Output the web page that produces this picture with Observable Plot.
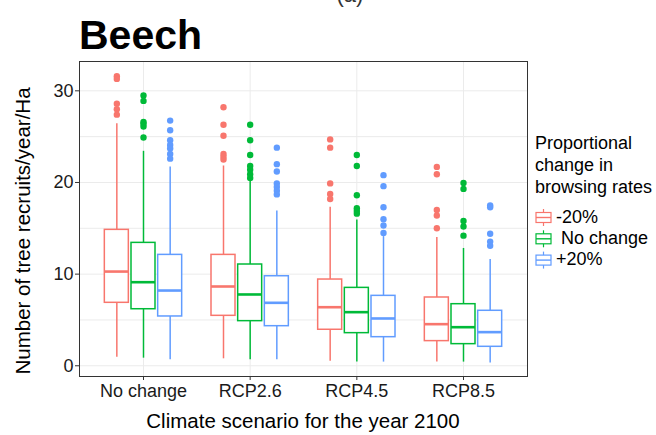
<!DOCTYPE html>
<html><head><meta charset="utf-8">
<script src="https://cdn.jsdelivr.net/npm/d3@7"></script>
<script src="https://cdn.jsdelivr.net/npm/@observablehq/plot@0.6"></script>
<style>
html,body{margin:0;padding:0;background:#fff;}
#wrap{position:relative;width:656px;height:435px;overflow:hidden;font-family:"Liberation Sans",Arial,sans-serif;}
#wrap svg{position:absolute;left:0;top:0;}
</style></head><body><div id="wrap"></div>
<script>
const scenarios = ["No change", "RCP2.6", "RCP4.5", "RCP8.5"];
const browsing = ["-20%", "No change", "+20%"];
const colors = ["#F8766D", "#00BA38", "#619CFF"];
const yTicks = [0, 10, 20, 30];
const yGrid = [0, 5, 10, 15, 20, 25, 30];

// order: for each scenario -> -20%, No change, +20%
const whiskerLow = [0.94, 0.83, 0.65,  0.76, 0.65, 0.65,  0.5, 0.4, 0.4,  0.4, 0.4, 0.3];
const q1         = [6.87, 6.17, 5.38,  5.45, 4.87, 4.32,  3.93, 3.56, 3.12,  2.69, 2.36, 2.07];
const median     = [10.28, 9.12, 8.21, 8.65, 7.78, 6.87,  6.39, 5.85, 5.16,  4.54, 4.21, 3.67];
const q3         = [14.83, 13.41, 12.1, 12.1, 11.05, 9.77, 9.41, 8.5, 7.63,  7.45, 6.72, 6.0];
const whiskerHigh= [26.4, 23.4, 21.7,  21.8, 20.1, 16.9,  17.3, 15.9, 14.1,  14.0, 12.8, 11.6];
const outliers = [
  [31.6, 31.3, 28.6, 28.0, 27.4],
  [29.5, 28.9, 26.6, 26.4, 26.1, 24.9],
  [26.75, 25.7, 24.6, 24.1, 23.7, 23.1, 22.6],
  [28.2, 26.3, 25.1, 23.1, 22.8, 22.5],
  [26.3, 24.6, 23.0, 21.8, 21.4, 20.9, 20.5],
  [23.8, 22.0, 21.2, 19.9, 19.5, 19.1, 18.7],
  [24.7, 23.8, 19.9, 18.75, 18.2],
  [23.0, 21.8, 18.6, 17.2, 16.9, 16.6],
  [20.8, 19.6, 17.3, 16.0, 15.3, 14.5],
  [21.7, 20.9, 17.0, 16.4, 15.0],
  [19.95, 19.3, 15.8, 15.2, 14.2],
  [17.5, 17.3, 14.4, 13.55, 13.1]
];

const dodge = 0.25, halfBox = 0.1125;
const rows = [];
const outRows = [];
scenarios.forEach((s, i) => browsing.forEach((b, j) => {
  const k = i * 3 + j;
  const pos = i + 1 + (j - 1) * dodge;
  rows.push({scenario: s, browsing: b, pos, lo: whiskerLow[k], q1: q1[k], med: median[k], q3: q3[k], hi: whiskerHigh[k]});
  outliers[k].forEach(v => outRows.push({browsing: b, pos, v}));
}));

const chart = Plot.plot({
  width: 656, height: 435,
  marginLeft: 79, marginRight: 129, marginTop: 61, marginBottom: 59,
  style: {fontFamily: "'Liberation Sans', Arial, sans-serif", background: "white", color: "#1a1a1a"},
  x: {type: "linear", domain: [0.4, 4.6]},
  y: {domain: [-1.17, 33.2]},
  color: {domain: browsing, range: colors},
  marks: [
    Plot.gridY(yGrid, {stroke: "#ebebeb", strokeOpacity: 1, strokeWidth: 1}),
    Plot.gridX([1, 2, 3, 4], {stroke: "#ebebeb", strokeOpacity: 1, strokeWidth: 1}),
    Plot.ruleX(rows, {x: "pos", y1: "q3", y2: "hi", stroke: "browsing", strokeWidth: 1.5}),
    Plot.ruleX(rows, {x: "pos", y1: "lo", y2: "q1", stroke: "browsing", strokeWidth: 1.5}),
    Plot.dot(outRows, {x: "pos", y: "v", r: 3.2, fill: "browsing", stroke: null}),
    Plot.rect(rows, {x1: d => d.pos - halfBox, x2: d => d.pos + halfBox, y1: "q1", y2: "q3", fill: "white", stroke: "browsing", strokeWidth: 1.5}),
    Plot.ruleY(rows, {y: "med", x1: d => d.pos - halfBox, x2: d => d.pos + halfBox, stroke: "browsing", strokeWidth: 2.6}),
    Plot.frame({stroke: "#333", strokeWidth: 1}),
    Plot.axisY(yTicks, {tickSize: 4, tickPadding: 2, fontSize: 18, label: null, stroke: "#333", fill: "#1a1a1a"}),
    Plot.axisX([1, 2, 3, 4], {tickFormat: d => scenarios[d - 1], tickSize: 4, tickPadding: 4, fontSize: 18, label: null, stroke: "#333", fill: "#1a1a1a"})
  ]
});
const wrap = document.getElementById("wrap");
wrap.appendChild(chart);

// overlay texts & legend
const ns = "http://www.w3.org/2000/svg";
const ov = document.createElementNS(ns, "svg");
ov.setAttribute("width", 656); ov.setAttribute("height", 435);
ov.setAttribute("font-family", "'Liberation Sans', Arial, sans-serif");
function txt(str, x, y, opts = {}) {
  const t = document.createElementNS(ns, "text");
  t.textContent = str;
  t.setAttribute("x", x); t.setAttribute("y", y);
  t.setAttribute("font-size", opts.size || 18);
  t.setAttribute("fill", opts.fill || "#000");
  if (opts.weight) t.setAttribute("font-weight", opts.weight);
  if (opts.anchor) t.setAttribute("text-anchor", opts.anchor);
  if (opts.transform) t.setAttribute("transform", opts.transform);
  t.setAttribute("xml:space", "preserve");
  t.style.whiteSpace = "pre";
  ov.appendChild(t);
  return t;
}
function el(tag, attrs) {
  const e = document.createElementNS(ns, tag);
  for (const k in attrs) e.setAttribute(k, attrs[k]);
  ov.appendChild(e);
  return e;
}
txt("(a)", 350, 1.5, {size: 22, anchor: "middle", fill: "#333"});
txt("Beech", 79, 49, {size: 41, weight: "bold"});
txt("Number of tree recruits/year/Ha", 0, 0, {size: 20.5, anchor: "middle", transform: "translate(30,231) rotate(-90)"});
txt("Climate scenario for the year 2100", 303, 428, {size: 20.5, anchor: "middle"});
const legendTitle = ["Proportional", "change in", "browsing rates"];
legendTitle.forEach((l, i) => txt(l, 535, 149 + i * 22, {size: 18}));
const legendLabels = ["-20%", " No change", "+20%"];
browsing.forEach((b, i) => {
  const top = 209 + i * 21.3;
  const c = colors[i];
  el("line", {x1: 543.5, x2: 543.5, y1: top, y2: top + 17, stroke: c, "stroke-width": 1.2});
  el("rect", {x: 536, y: top + 3.5, width: 15, height: 10, fill: "white", stroke: c, "stroke-width": 1.2});
  el("line", {x1: 536, x2: 551, y1: top + 8.5, y2: top + 8.5, stroke: c, "stroke-width": 1.4});
  txt(legendLabels[i], 556, 222.7 + i * 21.3, {size: 18});
});
wrap.appendChild(ov);
</script></body></html>
